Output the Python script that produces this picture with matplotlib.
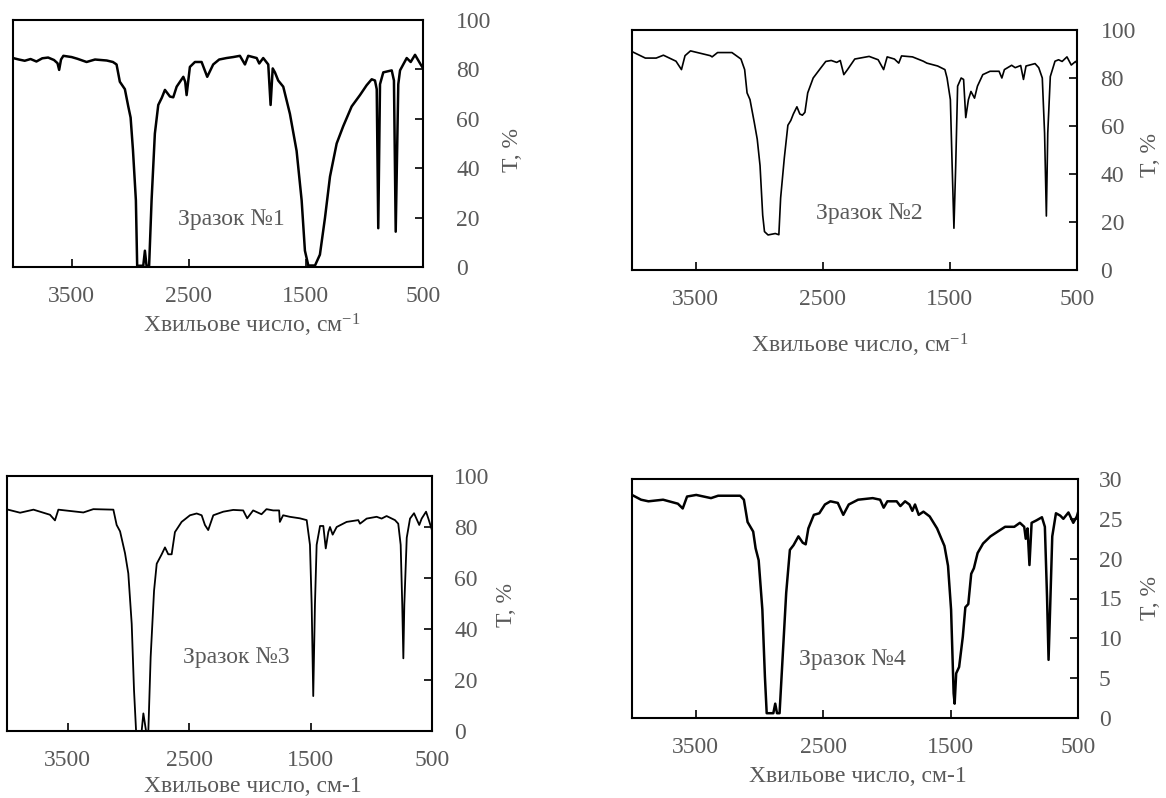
import matplotlib
matplotlib.use("Agg")
import matplotlib.pyplot as plt

plt.rcParams['font.family'] = ['Liberation Serif', 'DejaVu Serif']
plt.rcParams['mathtext.fontset'] = 'custom'
plt.rcParams['mathtext.rm'] = 'Liberation Serif'
plt.rcParams['mathtext.it'] = 'Liberation Serif:italic'
plt.rcParams['mathtext.bf'] = 'Liberation Serif:bold'

# ---------------- data ----------------
wn1 = [4000, 3950, 3900, 3850, 3800, 3750, 3700, 3650, 3620, 3606, 3590, 3570, 3500, 3450, 3372, 3300,
       3200, 3147, 3116, 3088, 3045, 3016, 2996, 2976, 2951, 2940, 2888, 2874, 2860, 2838, 2817, 2789,
       2760, 2730, 2703, 2660, 2632, 2603, 2546, 2530, 2518, 2490, 2447, 2390, 2342, 2291, 2240, 2177,
       2120, 2063, 2020, 1992, 1920, 1898, 1864, 1821, 1801, 1783, 1764, 1736, 1693, 1636, 1579, 1536,
       1508, 1479, 1422, 1380, 1337, 1294, 1237, 1181, 1109, 1038, 981, 938, 910, 895, 882, 867, 839,
       767, 748, 733, 711, 696, 639, 605, 568, 520, 500]
t1 = [84.6, 84.0, 83.5, 84.2, 83.2, 84.5, 84.8, 83.8, 82.5, 79.8, 84.0, 85.5, 85.0, 84.3, 83.0, 84.0,
      83.6, 83.0, 82.0, 75.0, 72.0, 65.0, 60.5, 47.4, 27.0, 0.5, 0.5, 6.6, 0.5, 0.5, 27.0, 54.0,
      65.6, 68.5, 71.7, 69.0, 68.7, 73.0, 77.0, 75.0, 69.6, 81.0, 83.0, 83.0, 77.0, 82.0, 84.0, 84.6,
      85.0, 85.5, 82.0, 85.5, 84.6, 82.4, 84.6, 82.0, 65.6, 80.4, 78.8, 75.5, 73.0, 62.0, 47.0, 27.0,
      6.6, 0.6, 0.6, 5.0, 19.8, 36.6, 50.0, 57.0, 65.0, 69.6, 73.6, 76.0, 75.5, 72.0, 15.7, 74.0, 78.8,
      79.6, 75.5, 14.3, 74.0, 79.6, 84.6, 83.0, 85.9, 82.0, 80.5]

wn2 = [4000, 3895, 3810, 3753, 3654, 3611, 3583, 3540, 3384, 3370, 3327, 3214, 3143, 3114, 3095, 3072,
       3038, 3015, 2993, 2972, 2958, 2930, 2873, 2845, 2831, 2802, 2774, 2751, 2731, 2703, 2680, 2660,
       2640, 2618, 2575, 2518, 2476, 2433, 2390, 2362, 2334, 2305, 2248, 2135, 2064, 2021, 1993, 1936,
       1902, 1880, 1794, 1709, 1681, 1596, 1539, 1522, 1496, 1482, 1468, 1454, 1439, 1411, 1392, 1375,
       1354, 1334, 1306, 1283, 1241, 1184, 1113, 1091, 1071, 1014, 986, 943, 921, 901, 830, 801, 773,
       755, 741, 730, 710, 673, 645, 617, 579, 545, 511, 500]
t2 = [91.0, 88.3, 88.3, 89.5, 87.0, 83.5, 89.3, 91.3, 89.3, 88.8, 90.6, 90.6, 87.9, 83.5, 73.8, 71.0,
      61.4, 54.5, 43.5, 22.8, 16.0, 14.6, 15.2, 14.7, 30.0, 46.7, 60.3, 62.3, 65.0, 68.0, 65.0, 64.5,
      65.7, 73.8, 80.0, 84.0, 86.9, 87.3, 86.5, 87.3, 81.4, 83.5, 87.9, 89.0, 87.6, 83.5, 88.8, 87.9,
      86.2, 89.2, 88.8, 87.0, 86.2, 85.0, 83.5, 80.0, 71.0, 43.5, 17.4, 43.5, 76.6, 80.0, 79.4, 63.5,
      71.0, 74.4, 71.6, 76.6, 81.4, 82.8, 82.8, 80.0, 83.5, 85.3, 84.3, 85.2, 79.4, 85.0, 86.0, 84.3, 80.0,
      57.0, 22.5, 57.0, 80.6, 87.0, 87.6, 86.9, 88.8, 85.4, 86.9, 86.0]

wn3 = [4000, 3892, 3782, 3646, 3605, 3577, 3371, 3289, 3124, 3097, 3069, 3028, 3001, 2973, 2954, 2937,
       2891, 2877, 2855, 2836, 2817, 2789, 2767, 2726, 2699, 2672, 2644, 2617, 2562, 2493, 2438, 2397,
       2370, 2343, 2301, 2219, 2137, 2055, 2022, 1973, 1904, 1863, 1808, 1759, 1753, 1726, 1671, 1588,
       1532, 1505, 1491, 1478, 1464, 1450, 1422, 1395, 1375, 1354, 1340, 1318, 1285, 1203, 1107, 1093,
       1038, 956, 915, 874, 805, 778, 758, 745, 736, 728, 708, 681, 648, 605, 585, 549, 530, 503]
t3 = [86.9, 85.6, 86.8, 84.8, 82.6, 86.8, 85.7, 87.0, 86.8, 80.8, 78.3, 69.7, 61.8, 42.0, 16.0, 0.0,
      0.0, 6.9, 0.0, 0.0, 29.0, 55.0, 65.6, 69.3, 72.0, 69.3, 69.3, 78.0, 82.0, 84.6, 85.3, 84.6,
      80.8, 78.8, 84.6, 86.0, 86.7, 86.5, 83.4, 86.5, 85.0, 87.0, 86.5, 86.5, 82.0, 84.6, 84.0, 83.4,
      82.7, 73.0, 49.5, 13.7, 49.5, 73.0, 80.4, 80.4, 71.6, 78.0, 80.0, 77.0, 80.0, 82.0, 82.7, 81.3,
      83.3, 84.0, 83.3, 84.3, 82.7, 81.3, 73.0, 49.5, 28.5, 49.5, 75.8, 83.3, 85.4, 80.8, 83.3, 86.0, 83.3, 79.2]

wn4 = [4000, 3929, 3871, 3756, 3640, 3602, 3568, 3496, 3380, 3324, 3151, 3122, 3093, 3049, 3030, 3006,
       2977, 2957, 2943, 2891, 2876, 2862, 2842, 2819, 2790, 2761, 2732, 2694, 2660, 2637, 2616, 2573,
       2530, 2486, 2443, 2385, 2342, 2299, 2226, 2111, 2053, 2025, 1996, 1923, 1894, 1857, 1823, 1800,
       1779, 1750, 1713, 1664, 1606, 1548, 1520, 1496, 1476, 1468, 1456, 1433, 1404, 1384, 1361, 1338,
       1317, 1288, 1245, 1187, 1130, 1072, 1000, 956, 922, 910, 896, 881, 864, 827, 783, 760, 743, 731,
       719, 702, 673, 639, 615, 575, 537, 509, 500]
t4 = [28.0, 27.4, 27.2, 27.4, 26.9, 26.3, 27.8, 28.0, 27.6, 27.9, 27.9, 27.4, 24.6, 23.4, 21.3, 19.8,
      13.6, 5.2, 0.6, 0.6, 1.8, 0.6, 0.6, 7.3, 15.7, 21.1, 21.7, 22.8, 22.0, 21.8, 23.8, 25.5,
      25.7, 26.8, 27.2, 27.0, 25.5, 26.8, 27.4, 27.6, 27.4, 26.4, 27.2, 27.2, 26.6, 27.2, 26.8, 26.0,
      26.8, 25.5, 25.9, 25.3, 23.8, 21.6, 19.1, 13.6, 3.1, 1.8, 5.6, 6.4, 10.2, 13.9, 14.3, 18.1,
      18.8, 20.7, 21.9, 22.8, 23.4, 24.0, 24.0, 24.5, 24.0, 22.5, 23.8, 19.2, 24.5, 24.8, 25.2, 24.0, 15.2, 7.3,
      13.6, 22.8, 25.7, 25.4, 25.0, 25.8, 24.5, 25.3, 25.8]

x_ticks = [3500, 2500, 1500, 500]
y_ticks_pct = [0, 20, 40, 60, 80, 100]
y_ticks_4 = [0, 5, 10, 15, 20, 25, 30]
sample_names = ["Зразок №1", "Зразок №2", "Зразок №3", "Зразок №4"]
xlabel_sup = "Хвильове число, см$^{\\mathrm{-1}}$"
xlabel_plain = "Хвильове число, см-1"
ylabel = "T, %"

# ---------------- layout ----------------
W, H = 1166, 798
fig = plt.figure(figsize=(W / 100, H / 100), dpi=100)
GRAY = '#595959'
FS = 17

def add_ax(l, t, r, b):
    return fig.add_axes([l / W, 1 - b / H, (r - l) / W, (b - t) / H])

panels = [
    dict(box=(13, 20, 423, 267), wn=wn1, t=t1, yt=y_ticks_pct, ymax=100, lw=1.8, ypad=24,
         name=(231, 220), xl=(252, 325, xlabel_sup), yl=(512, 150)),
    dict(box=(632, 30, 1077, 270), wn=wn2, t=t2, yt=y_ticks_pct, ymax=100, lw=1.2, ypad=17,
         name=(869, 213), xl=(860, 345, xlabel_sup), yl=(1151, 155)),
    dict(box=(7, 476, 432, 731), wn=wn3, t=t3, yt=y_ticks_pct, ymax=100, lw=1.3, ypad=16,
         name=(236, 658), xl=(253, 786, xlabel_plain), yl=(507, 605)),
    dict(box=(632, 479, 1078, 718), wn=wn4, t=t4, yt=y_ticks_4, ymax=30, lw=1.8, ypad=15,
         name=(852, 660), xl=(858, 776, xlabel_plain), yl=(1151, 598)),
]

for i, p in enumerate(panels):
    ax = add_ax(*p['box'])
    ax.plot(p['wn'], p['t'], color='black', lw=p['lw'], solid_joinstyle='round')
    ax.set_xlim(4000, 500)
    ax.set_ylim(0, p['ymax'])
    ax.set_xticks(x_ticks)
    ax.set_yticks(p['yt'])
    ax.yaxis.tick_right()
    ax.tick_params(axis='both', direction='in', length=6, width=1.2, color='black',
                   labelsize=FS, labelcolor=GRAY)
    ax.tick_params(axis='x', pad=14)
    ax.tick_params(axis='y', pad=p['ypad'], right=True, left=False)
    for s in ax.spines.values():
        s.set_linewidth(1.5)
        s.set_color('black')
    nx, ny = p['name']
    fig.text(nx / W, 1 - ny / H, sample_names[i], ha='center', va='center',
             fontsize=FS, color=GRAY)
    xx, xy, xt = p['xl']
    fig.text(xx / W, 1 - xy / H, xt, ha='center', va='center', fontsize=FS, color=GRAY)
    yx, yy = p['yl']
    fig.text(yx / W, 1 - yy / H, ylabel, ha='center', va='center', rotation=90,
             fontsize=FS, color=GRAY)

fig.savefig('out.png', dpi=100)
